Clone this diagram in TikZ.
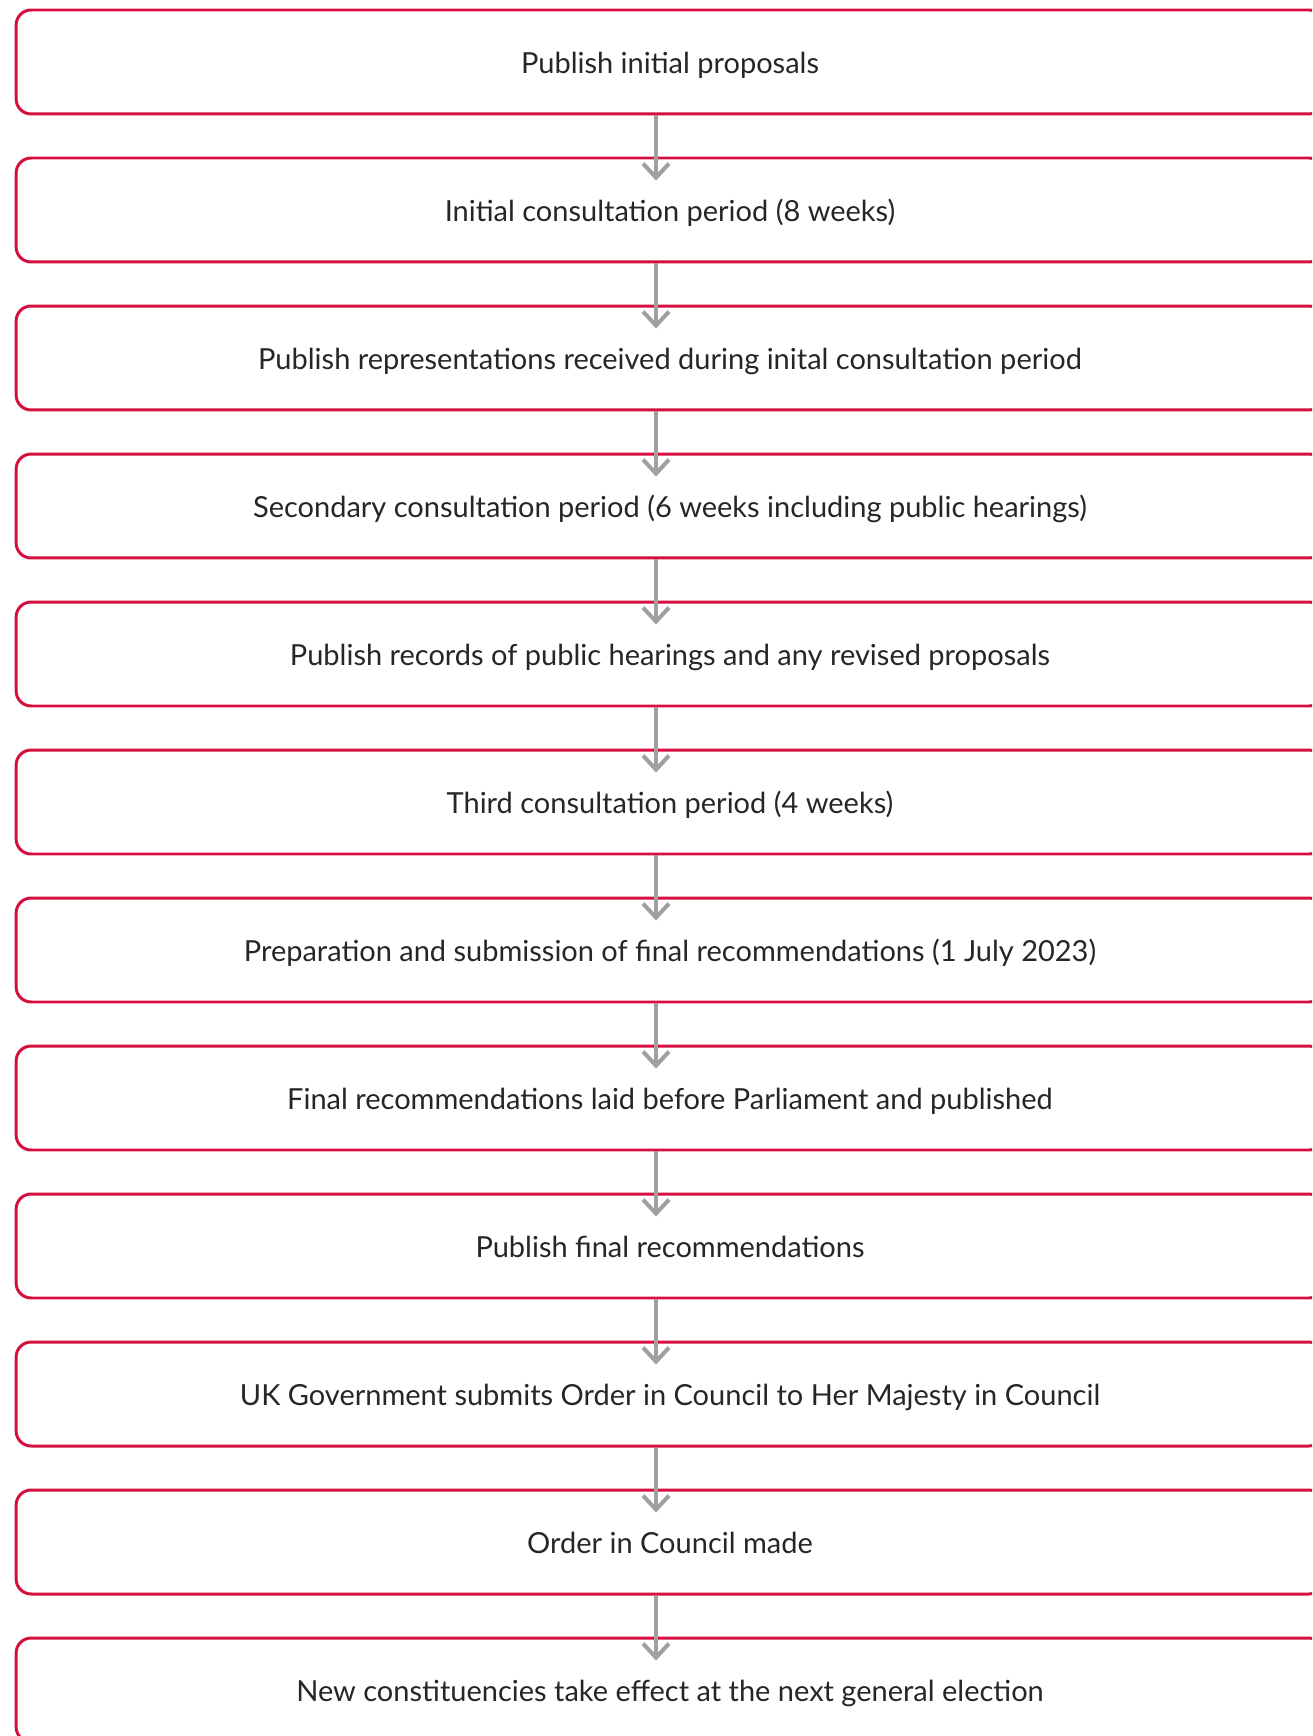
\documentclass[tikz,border=0pt]{standalone}
\usepackage{fontspec}
\setmainfont{Lato}
\usetikzlibrary{arrows.meta}
\definecolor{boxred}{RGB}{214,16,62}
\definecolor{arrowgrey}{RGB}{160,160,160}
\tikzset{
  stage/.style={draw=boxred, line width=1.7pt, rounded corners=0.3cm,
    minimum width=26.16cm, minimum height=2.08cm,
    text height=13.5pt, text depth=0pt,
    font=\fontsize{16.5}{19}\selectfont, text=black!85},
  flow/.style={draw=arrowgrey, line width=2.3pt,
    -{Straight Barb[length=0.28cm,width=0.52cm]}}
}
\begin{document}
\begin{tikzpicture}[x=0.02cm,y=-0.02cm]
\useasboundingbox (0,0) rectangle (1312,1736);
\clip (0,0) rectangle (1312,1736);
\node at (670,62) [stage] (s1) {Publish initial proposals};
\node at (670,210) [stage] (s2) {Initial consultation period (8 weeks)};
\node at (670,358) [stage] (s3) {Publish representations received during inital consultation period};
\node at (670,506) [stage] (s4) {Secondary consultation period (6 weeks including public hearings)};
\node at (670,654) [stage] (s5) {Publish records of public hearings and any revised proposals};
\node at (670,802) [stage] (s6) {Third consultation period (4 weeks)};
\node at (670,950) [stage] (s7) {Preparation and submission of final recommendations (1 July 2023)};
\node at (670,1098) [stage] (s8) {Final recommendations laid before Parliament and published};
\node at (670,1246) [stage] (s9) {Publish final recommendations};
\node at (670,1394) [stage] (s10) {UK Government submits Order in Council to Her Majesty in Council};
\node at (670,1542) [stage] (s11) {Order in Council made};
\node at (670,1690) [stage] (s12) {New constituencies take effect at the next general election};
\draw[flow] ([xshift=-0.28cm]s1.south) -- ([xshift=-0.28cm,yshift=-0.48cm]s2.north);
\draw[flow] ([xshift=-0.28cm]s2.south) -- ([xshift=-0.28cm,yshift=-0.48cm]s3.north);
\draw[flow] ([xshift=-0.28cm]s3.south) -- ([xshift=-0.28cm,yshift=-0.48cm]s4.north);
\draw[flow] ([xshift=-0.28cm]s4.south) -- ([xshift=-0.28cm,yshift=-0.48cm]s5.north);
\draw[flow] ([xshift=-0.28cm]s5.south) -- ([xshift=-0.28cm,yshift=-0.48cm]s6.north);
\draw[flow] ([xshift=-0.28cm]s6.south) -- ([xshift=-0.28cm,yshift=-0.48cm]s7.north);
\draw[flow] ([xshift=-0.28cm]s7.south) -- ([xshift=-0.28cm,yshift=-0.48cm]s8.north);
\draw[flow] ([xshift=-0.28cm]s8.south) -- ([xshift=-0.28cm,yshift=-0.48cm]s9.north);
\draw[flow] ([xshift=-0.28cm]s9.south) -- ([xshift=-0.28cm,yshift=-0.48cm]s10.north);
\draw[flow] ([xshift=-0.28cm]s10.south) -- ([xshift=-0.28cm,yshift=-0.48cm]s11.north);
\draw[flow] ([xshift=-0.28cm]s11.south) -- ([xshift=-0.28cm,yshift=-0.48cm]s12.north);
\end{tikzpicture}
\end{document}
